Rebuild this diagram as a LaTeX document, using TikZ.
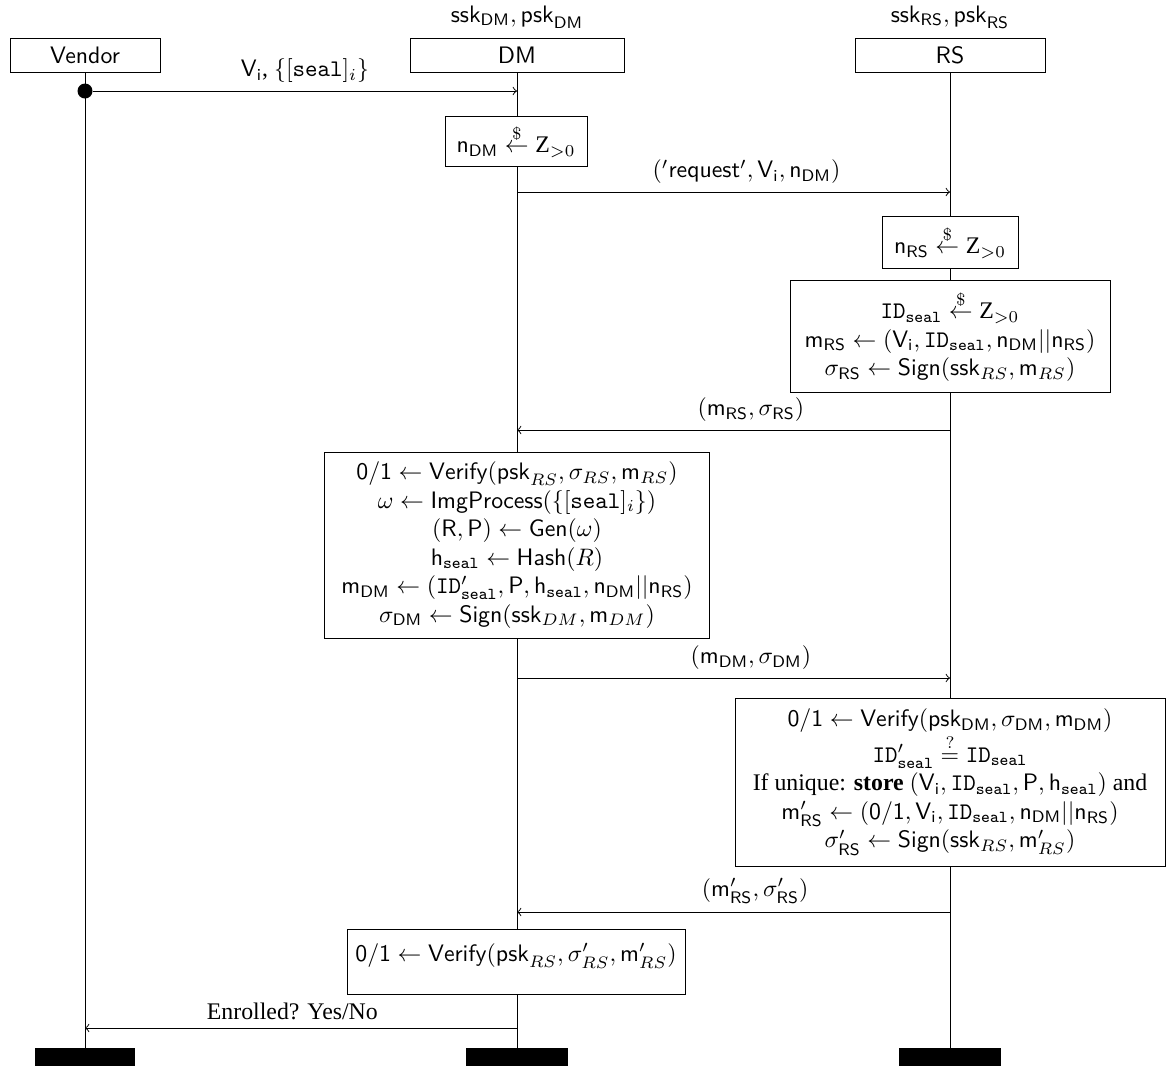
\documentclass[tikz,border=0pt]{standalone}
\usepackage{amsmath,amsfonts}
\usepackage{fontspec}
\setmainfont{Liberation Serif}
\usepackage{tikz}

\begin{document}
\begin{tikzpicture}[x=0.42pt,y=-0.42pt,
  actor/.style={draw,font=\sffamily,minimum height=34*0.42pt,inner sep=0pt},
  proc/.style={draw,fill=white,align=center,inner sep=0pt},
  bar/.style={fill=black,minimum height=18*0.42pt,inner sep=0pt},
  msg/.style={->}]
\useasboundingbox (0,0) rectangle (1166,1066);
% parties
\node[actor,minimum width=150*0.42pt] (vendor) at (85,55) {Vendor};
\node[actor,minimum width=214*0.42pt] (dm) at (517,55) {DM};
\node[actor,minimum width=190*0.42pt] (rs) at (950,55) {RS};
\node (kDM) at (517,17) {$\mathsf{ssk}_{\mathsf{DM}},\mathsf{psk}_{\mathsf{DM}}$};
\node (kRS) at (950,17) {$\mathsf{ssk}_{\mathsf{RS}},\mathsf{psk}_{\mathsf{RS}}$};
\node[bar,minimum width=100*0.42pt] (vendorEnd) at (85,1057) {};
\node[bar,minimum width=102*0.42pt] (dmEnd) at (517,1057) {};
\node[bar,minimum width=102*0.42pt] (rsEnd) at (950,1057) {};
\draw (vendor) -- (vendorEnd);
\draw (dm) -- (dmEnd);
\draw (rs) -- (rsEnd);
% computations
\node[proc,minimum width=142*0.42pt,minimum height=50*0.42pt] (nDM) at (516,141)
  {$\mathsf{n_{DM}}\stackrel{\$}{\leftarrow}\mathrm{Z}_{>0}$};
\node[proc,minimum width=136*0.42pt,minimum height=52*0.42pt] (nRS) at (950,242)
  {$\mathsf{n_{RS}}\stackrel{\$}{\leftarrow}\mathrm{Z}_{>0}$};
\node[proc,minimum width=320*0.42pt,minimum height=112*0.42pt] (signRS) at (950,336)
  {$\mathtt{ID}_{\mathtt{seal}}\stackrel{\$}{\leftarrow}\mathrm{Z}_{>0}$\\
   $\mathsf{m_{RS}}\leftarrow(\mathsf{V_i},\mathtt{ID}_{\mathtt{seal}},\mathsf{n_{DM}}||\mathsf{n_{RS}})$\\
   $\sigma_{\mathsf{RS}}\leftarrow\mathsf{Sign}(\mathsf{ssk}_{RS},\mathsf{m}_{RS})$};
\node[proc,minimum width=385*0.42pt,minimum height=186*0.42pt] (signDM) at (517,545)
  {$\mathsf{0/1}\leftarrow\mathsf{Verify}(\mathsf{psk}_{RS},\sigma_{RS},\mathsf{m}_{RS})$\\
   $\omega\leftarrow\mathsf{ImgProcess}(\{[\mathtt{seal}]_i\})$\\
   $(\mathsf{R},\mathsf{P})\leftarrow\mathsf{Gen}(\omega)$\\
   $\mathsf{h}_{\mathtt{seal}}\leftarrow\mathsf{Hash}(R)$\\
   $\mathsf{m_{DM}}\leftarrow(\mathtt{ID}'_{\mathtt{seal}},\mathsf{P},\mathsf{h}_{\mathtt{seal}},\mathsf{n_{DM}}||\mathsf{n_{RS}})$\\
   $\sigma_{\mathsf{DM}}\leftarrow\mathsf{Sign}(\mathsf{ssk}_{DM},\mathsf{m}_{DM})$};
\node[proc,minimum width=430*0.42pt,minimum height=168*0.42pt] (storeRS) at (950,782)
  {$\mathsf{0/1}\leftarrow\mathsf{Verify}(\mathsf{psk_{DM}},\sigma_{\mathsf{DM}},\mathsf{m_{DM}})$\\
   $\mathtt{ID}'_{\mathtt{seal}}\stackrel{?}{=}\mathtt{ID}_{\mathtt{seal}}$\\
   If unique: \textbf{store} $(\mathsf{V_i},\mathtt{ID}_{\mathtt{seal}},\mathsf{P},\mathsf{h}_{\mathtt{seal}})$ and\\
   $\mathsf{m}'_{\mathsf{RS}}\leftarrow(\mathsf{0/1},\mathsf{V_i},\mathtt{ID}_{\mathtt{seal}},\mathsf{n_{DM}}||\mathsf{n_{RS}})$\\
   $\sigma'_{\mathsf{RS}}\leftarrow\mathsf{Sign}(\mathsf{ssk}_{RS},\mathsf{m}'_{RS})$};
\node[proc,minimum width=338*0.42pt,minimum height=65*0.42pt,text depth=8pt] (vfyDM) at (516,962)
  {$\mathsf{0/1}\leftarrow\mathsf{Verify}(\mathsf{psk}_{RS},\sigma'_{RS},\mathsf{m}'_{RS})$};
% messages
\node[circle,fill,inner sep=0pt,minimum size=15*0.42pt] (dot) at (85,91) {};
\coordinate (m1) at (517,91);
\draw[msg] (dot) -- (m1) node[midway,above] {$\mathsf{V_i}$, $\{[\mathtt{seal}]_i\}$};
\coordinate (m2a) at (517,192);
\coordinate (m2b) at (950,192);
\draw[msg] (m2a) -- (m2b) node[pos=.53,above] {$(\mathsf{'request'},\mathsf{V_i},\mathsf{n_{DM}})$};
\coordinate (m3a) at (950,430);
\coordinate (m3b) at (517,430);
\draw[msg] (m3a) -- (m3b) node[pos=.46,above] {$(\mathsf{m_{RS}},\sigma_{\mathsf{RS}})$};
\coordinate (m4a) at (517,678);
\coordinate (m4b) at (950,678);
\draw[msg] (m4a) -- (m4b) node[pos=.54,above] {$(\mathsf{m_{DM}},\sigma_{\mathsf{DM}})$};
\coordinate (m5a) at (950,912);
\coordinate (m5b) at (517,912);
\draw[msg] (m5a) -- (m5b) node[pos=.45,above] {$(\mathsf{m}'_{\mathsf{RS}},\sigma'_{\mathsf{RS}})$};
\coordinate (m6a) at (517,1028);
\coordinate (m6b) at (85,1028);
\draw[msg] (m6a) -- (m6b) node[pos=.52,above] {Enrolled? Yes/No};
\end{tikzpicture}
\end{document}
